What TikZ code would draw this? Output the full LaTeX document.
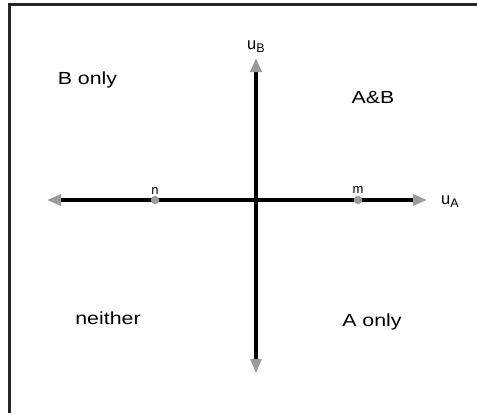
\documentclass[tikz,border=0pt]{standalone}
\usepackage{fontspec}
\setmainfont{Liberation Sans}[FakeStretch=1.22]
\newfontfamily\plainfont{Liberation Sans}
\usetikzlibrary{arrows.meta}
\definecolor{axgray}{RGB}{155,155,155}
\tikzset{
  region/.style={inner sep=0pt, font=\fontsize{17.5}{18}\selectfont},
  pointlbl/.style={inner sep=0pt, font=\plainfont\fontsize{13}{13}\selectfont},
  axlbl/.style={inner sep=0pt, font=\plainfont},
  axisline/.style={line width=3.2pt, black, {Triangle[length=14pt,width=11pt,color=axgray]}-{Triangle[length=14pt,width=11pt,color=axgray]}},
  dotpt/.style={circle, fill=axgray, inner sep=0pt, minimum size=8.5pt},
  frameline/.style={line width=2.2pt, black!85}
}
\newcommand{\axname}[2]{{\fontsize{16.5}{16.5}\selectfont #1}{\fontsize{12.5}{12.5}\selectfont\raisebox{-3pt}{#2}}}
\begin{document}
\begin{tikzpicture}[x=1pt,y=-1pt]
\useasboundingbox (0,0) rectangle (477,413);
% frame (only top and left edges lie inside the picture)
\coordinate (fbl) at (9.5,413);
\coordinate (ftl) at (9.5,4.5);
\coordinate (ftr) at (477,4.5);
\draw[frameline] (fbl) -- (ftl) -- (ftr);
% axes
\coordinate (xl) at (47,200);
\coordinate (xr) at (427,200);
\coordinate (yt) at (256,58);
\coordinate (yb) at (256,373);
\draw[axisline] (xl) -- (xr);
\draw[axisline] (yb) -- (yt);
% points
\node[dotpt] (n) at (155,200) {};
\node[dotpt] (m) at (358,200) {};
\node[pointlbl] (nl) at (155,190.5) {n};
\node[pointlbl] (ml) at (358,189.5) {m};
% axis labels
\node[axlbl] (uB) at (256,47) {\axname{u}{B}};
\node[axlbl] (uA) at (450,202) {\axname{u}{A}};
% region labels
\node[region] (bonly) at (87.5,80) {B only};
\node[region] (ab) at (373,98) {A\&B};
\node[region] (neither) at (108,318.5) {neither};
\node[region] (aonly) at (372,322) {A only};
\end{tikzpicture}
\end{document}
